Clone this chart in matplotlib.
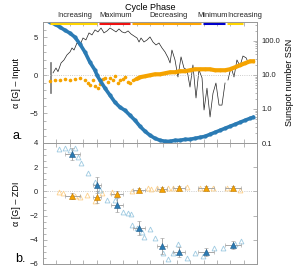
import numpy as np
import matplotlib
matplotlib.use("Agg")
import matplotlib.pyplot as plt
from matplotlib.ticker import MultipleLocator, NullFormatter, FixedLocator, LogLocator

# ---------------- data ----------------
# top panel: alpha input (blue) and orange series, time in years
blue_t = [0.52, 0.90, 1.27, 1.64, 2.02, 2.39, 2.77, 3.14, 3.51, 3.89, 4.04, 4.26, 4.64, 5.01,
          5.38, 5.76, 6.13, 6.50, 6.88, 7.25, 7.63, 8.00, 8.37, 8.75, 9.12, 9.50, 9.87,
          10.24, 10.62, 10.99, 11.36, 11.74, 12.11, 12.49, 12.86, 13.23, 13.61, 13.98,
          14.36, 14.73, 15.10, 15.48, 15.70]
blue_v = [6.97, 6.71, 6.32, 5.92, 5.53, 5.00, 4.08, 3.03, 1.71, 0.66, 0.00, -0.66, -1.71, -2.63,
          -3.55, -4.21, -4.61, -5.26, -5.92, -6.71, -7.37, -7.89, -8.29, -8.55, -8.68, -8.68, -8.55,
          -8.55, -8.42, -8.42, -8.29, -8.16, -8.03, -7.76, -7.50, -7.24, -6.97, -6.71,
          -6.45, -6.18, -5.92, -5.66, -5.53]

orange_t = [0.52, 0.90, 1.27, 1.64, 2.02, 2.39, 2.77, 3.14, 3.36, 3.51, 3.74, 3.89, 4.11, 4.26,
            4.49, 4.64, 4.86, 5.01, 5.23, 5.38, 5.61, 5.76, 5.98, 6.13, 6.36, 6.50, 6.73, 6.88,
            7.10, 7.25, 7.63, 8.00, 8.37, 8.75, 9.12, 9.50, 9.87, 10.24, 10.62, 10.99, 11.36,
            11.74, 12.11, 12.49, 12.86, 13.23, 13.61, 13.98, 14.36, 14.73, 15.10, 15.48, 15.70]
orange_v = [-0.79, -0.66, -0.66, -0.53, -0.66, -0.53, -0.40, -0.66, -1.05, -1.32, -0.66, -1.45,
            -1.71, -1.18, -0.53, -0.40, -0.92, -0.40, -0.66, -0.13, -1.05, -0.66, -0.53, -0.26,
            -0.92, -1.05, -0.66, -0.53, -0.40, -0.26, -0.13, 0.00, 0.13, 0.13, 0.26, 0.40, 0.40,
            0.53, 0.53, 0.66, 0.79, 0.79, 0.79, 0.79, 0.66, 0.66, 0.66, 0.79, 1.05, 1.32, 1.58,
            1.84, 1.84]

# sunspot number (right log axis); NaN = data gap
ssn_t = [0.75, 0.97, 1.12, 1.35, 1.57, 1.79, 2.02, 2.17, 2.32, 2.54, 2.77, 2.99, 3.21, 3.44,
         3.66, 3.89, 4.11, 4.34, 4.56, 4.79, 5.01, 5.23, 5.46, 5.68, 5.91, 6.13, 6.36, 6.58,
         6.80, 7.03, 7.18, 7.33, 7.55, 7.78, 8.00, 8.22, 8.45, 8.67, 8.90, 9.12, 9.35, 9.50,
         9.64, 9.87, 10.09, 10.32, 10.54, 10.77, 10.99, 11.21, 11.44, 11.66, 11.89, 12.04,
         12.26, 12.49, 12.71, 12.93, 13.16, 13.38, 13.61, 13.70, 13.83, 14.06, 14.28, 14.50,
         14.73, 14.95, 15.18, 15.33]
ssn_v = [11.5, 16, 12.5, 22.5, 27.6, 38.7, 47.5, 62, 54, 87, 76, 122, 107, 172, 150, 211, 184,
         240, 172, 197, 240, 211, 184, 225, 184, 172, 197, 160, 140, 122, 93, 122, 93, 107, 131,
         93, 76, 87, 62, 47.5, 32, 22.5, 54, 27.6, 8.7, 34, 16, 14, 4.4, 19.7, 2.1, 14, 8.2,
         0.93, 4.1, 0.58, 2.9, 5.8, 1.3, 1.3, 5.8, np.nan, 7.1, 17, 8.7, 27.6, 18.4, 36, 32, 24]

# cycle phases (start, end, label, colour)
phase_start = [0.52, 4.19, 6.65, 11.96, 13.76]
phase_end = [4.04, 6.50, 11.81, 13.60, 14.95]
phase_label = ["Increasing", "Maximum", "Decreasing", "Minimum", "Increasing"]
phase_label_x = [2.40, 5.40, 9.35, 12.65, 15.10]
phase_color = ["#ffd400", "#ee1111", "#ffa500", "#0000cc", "#ffd400"]

# bottom panel: ZDI alpha, filled averages with errors
avg_t = [2.17, 4.04, 5.53, 7.18, 8.90, 10.17, 12.19, 14.21]
avg_t_err = [0.56, 0.30, 0.45, 0.45, 0.37, 0.45, 0.60, 0.60]
avg_blue = [3.09, 0.53, -1.12, -3.02, -4.51, -5.00, -5.00, -4.43]
avg_blue_err = [0.50, 0.70, 0.60, 0.60, 0.70, 0.40, 0.30, 0.30]
avg_orange = [-0.38, -0.46, -0.21, 0.12, 0.20, 0.28, 0.28, 0.28]
avg_orange_err = [0.25, 0.50, 0.25, 0.20, 0.20, 0.20, 0.20, 0.20]

ind_blue_t = [1.20, 1.64, 2.02, 2.39, 2.62, 2.84, 3.36, 3.89, 4.26, 4.79, 5.38, 5.98, 6.36, 6.58,
              6.65, 7.03, 7.40, 7.55, 8.00, 8.37, 8.97, 9.35, 9.72, 10.09, 10.77, 11.36, 11.96,
              12.79, 13.46, 14.36, 14.80]
ind_blue_v = [3.50, 3.59, 3.42, 3.59, 2.84, 2.35, 1.52, 0.78, 0.12, -0.71, -0.71, -1.70, -1.79,
              -1.87, -2.78, -3.02, -3.36, -3.77, -3.10, -3.85, -5.09, -5.59, -5.09, -4.35, -5.50,
              -5.09, -5.34, -4.68, -4.68, -4.35, -4.10]
ind_orange_t = [1.20, 1.50, 2.39, 2.77, 3.29, 3.89, 4.41, 5.16, 6.65, 7.85, 8.07, 8.52, 9.35,
                9.72, 10.77, 11.74, 12.71, 13.76, 14.73]
ind_orange_v = [-0.05, -0.12, -0.38, -0.46, -0.30, -0.79, -0.13, -0.05, 0.03, 0.28, 0.20, 0.28,
                0.28, 0.28, 0.36, 0.28, 0.28, 0.28, 0.12]

BLUE = "#2b7bb4"
ORANGE = "#f5a300"
LBLUE = "#9ecae1"
LORANGE = "#fdd08a"
SPINE = "#999999"

plt.rcParams["font.family"] = ["Liberation Sans", "DejaVu Sans"]
fig = plt.figure(figsize=(2.99, 2.67), dpi=100)

W, H = 299, 267
L, R = 43, 257
ax1 = fig.add_axes([L / W, 1 - 143 / H, (R - L) / W, 121 / H])
ax2 = fig.add_axes([L / W, 1 - 264 / H, (R - L) / W, 121 / H])

def style(ax):
    for s in ax.spines.values():
        s.set_color(SPINE)
        s.set_linewidth(0.7)
    ax.tick_params(which="both", direction="in", colors=SPINE, labelcolor="#222222",
                   labelsize=5.5, width=0.5)
    ax.tick_params(which="major", length=3)
    ax.tick_params(which="minor", length=1.8)
    ax.set_xlim(0, 16)
    ax.xaxis.set_major_locator(MultipleLocator(1))
    ax.xaxis.set_major_formatter(NullFormatter())
    ax.tick_params(axis="x", top=True, bottom=True)

# ----- top panel -----
style(ax1)
ax1.set_ylim(-8.9, 7.0)
ax1.yaxis.set_major_locator(FixedLocator([-5, 0, 5]))
ax1.yaxis.set_minor_locator(MultipleLocator(1))
ax1.axhline(0, color="#bbbbbb", lw=0.6, ls=":")
ax1r = ax1.twinx()
ax1r.set_yscale("log")
ax1r.set_ylim(0.1, 360)
for s in ax1r.spines.values():
    s.set_color(SPINE)
    s.set_linewidth(0.7)
ax1r.tick_params(which="both", direction="in", colors=SPINE, labelcolor="#222222",
                 labelsize=5.5, width=0.5)
ax1r.tick_params(which="major", length=3)
ax1r.tick_params(which="minor", length=1.8)
ax1r.yaxis.set_major_locator(FixedLocator([0.1, 1, 10, 100]))
ax1r.set_yticklabels(["0.1", "1.0", "10.0", "100.0"])
ax1r.yaxis.set_minor_locator(LogLocator(base=10, subs=np.arange(2, 10)))
ax1r.yaxis.set_minor_formatter(NullFormatter())
ax1r.plot([0.6, 0.6], [2.96, 22.5], color="#777777", lw=1.2)
ax1r.plot(ssn_t, ssn_v, color="#222222", lw=0.5)
ax1r.set_ylabel("Sunspot number SSN", fontsize=6.5, labelpad=3)

ax1.set_zorder(ax1r.get_zorder() + 1)
ax1.patch.set_visible(False)
ax1.plot(orange_t, orange_v, "o", color=ORANGE, ms=2.6, mec="none")
ax1.plot(orange_t[28:], orange_v[28:], "-", color=ORANGE, lw=3)
ax1.plot(blue_t, blue_v, "-o", color=BLUE, ms=3, lw=2.6, mec="none")
ax1.set_ylabel("α [G] – Input", fontsize=6.5, labelpad=6)

# phase bars above the top panel
xt = ax1.get_xaxis_transform()
for s, e, lab, lx, c in zip(phase_start, phase_end, phase_label, phase_label_x, phase_color):
    ax1.plot([s, e], [0.988, 0.988], color=c, lw=2.2, transform=xt,
             clip_on=False, solid_capstyle="butt")
    ax1.text(lx, 1.025, lab, transform=xt, ha="center",
             va="bottom", fontsize=5.4, color="#222222")
fig.text(150 / W, 1 - 7 / H, "Cycle Phase", ha="center", va="center", fontsize=6.5)
fig.text(18 / W, 1 - 136 / H, "a.", ha="center", va="center", fontsize=9)

# ----- bottom panel -----
style(ax2)
ax2.set_ylim(-6, 4)
ax2.yaxis.set_major_locator(MultipleLocator(2))
ax2.yaxis.set_minor_locator(MultipleLocator(0.5))
ax2.tick_params(axis="y", right=True)
ax2.axhline(0, color="#bbbbbb", lw=0.6, ls=":")
ax2.plot(ind_orange_t, ind_orange_v, "^", mfc="none", mec=LORANGE, ms=3.5, mew=0.6)
ax2.plot(ind_blue_t, ind_blue_v, "^", mfc="none", mec=LBLUE, ms=3.5, mew=0.6)
ax2.errorbar(avg_t, avg_orange, xerr=avg_t_err, yerr=avg_orange_err, fmt="^", color=ORANGE,
             ms=4, mec="#c07800", mew=0.4, ecolor="#999999", elinewidth=0.6, capsize=1.5,
             capthick=0.6)
ax2.errorbar(avg_t, avg_blue, xerr=avg_t_err, yerr=avg_blue_err, fmt="^", color=BLUE,
             ms=4, mec="#1a5a8a", mew=0.4, ecolor="#999999", elinewidth=0.6, capsize=1.5,
             capthick=0.6)
ax2.set_ylabel("α [G] – ZDI", fontsize=6.5, labelpad=6)
fig.text(20 / W, 1 - 259 / H, "b.", ha="center", va="center", fontsize=9)

fig.savefig("out.png", dpi=100)
